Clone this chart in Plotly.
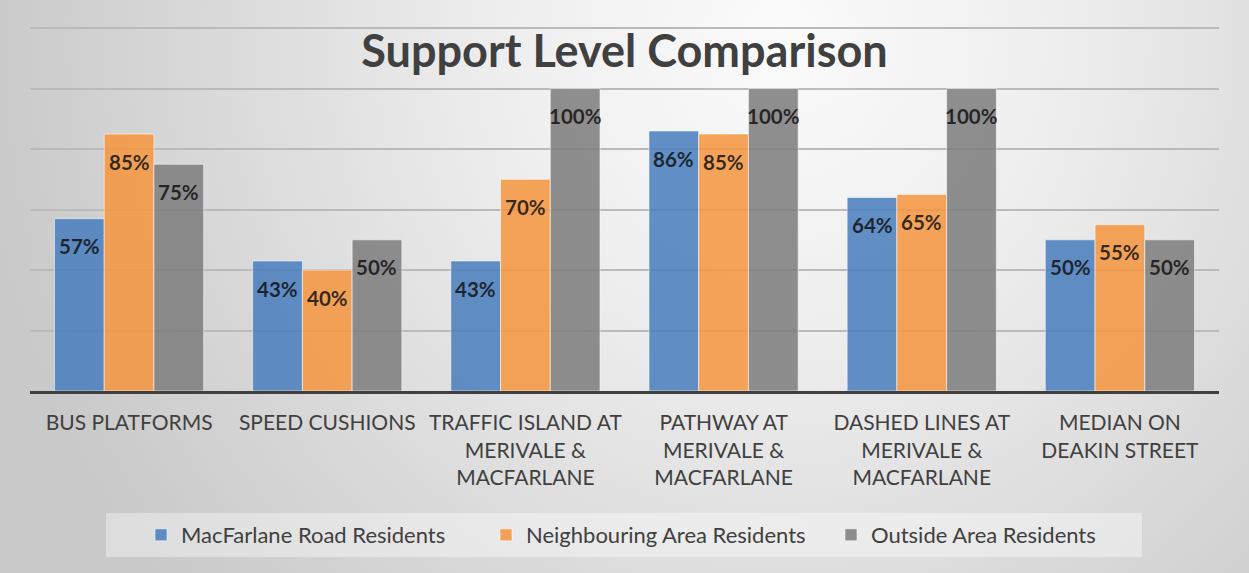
import base64
import plotly.graph_objects as go

# ---------------- data ----------------
categories = [
    "BUS PLATFORMS",
    "SPEED CUSHIONS",
    "TRAFFIC ISLAND AT<br>MERIVALE &<br>MACFARLANE",
    "PATHWAY AT<br>MERIVALE &<br>MACFARLANE",
    "DASHED LINES AT<br>MERIVALE &<br>MACFARLANE",
    "MEDIAN ON<br>DEAKIN STREET",
]
macfarlane = [57, 43, 43, 86, 64, 50]
neighbouring = [85, 40, 70, 85, 65, 55]
outside = [75, 50, 100, 100, 100, 50]
series_names = ["MacFarlane Road Residents", "Neighbouring Area Residents", "Outside Area Residents"]
y_ticks = [0, 20, 40, 60, 80, 100, 120]

# ---------------- geometry / style ----------------
W, H = 1249, 573
ML, MR, MT, MB = 30, 30, 27, 182
PW, PH = W - ML - MR, H - MT - MB

def px_x(px):
    return (px - ML) / PW

def px_y(py):
    return (H - MB - py) / PH

colors = ["rgba(74,126,190,0.87)", "rgba(245,150,66,0.87)", "rgba(126,126,126,0.87)"]
FONT = "Lato, 'Open Sans', sans-serif"

# background radial gradient as inline SVG
svg = f"""<svg xmlns='http://www.w3.org/2000/svg' width='{W}' height='{H}' viewBox='0 0 {W} {H}'>
<defs><radialGradient id='g' gradientUnits='userSpaceOnUse' cx='780' cy='40' r='800'
 gradientTransform='translate(780 40) scale(1 1.05) translate(-780 -40)'>
<stop offset='0' stop-color='#fbfbfb'/>
<stop offset='0.35' stop-color='#eeeeee'/>
<stop offset='0.7' stop-color='#dadada'/>
<stop offset='1' stop-color='#c9c9c9'/>
</radialGradient></defs>
<rect x='0' y='0' width='{W}' height='{H}' fill='url(#g)'/>
</svg>"""
svg_uri = "data:image/svg+xml;base64," + base64.b64encode(svg.encode()).decode()

fig = go.Figure()
for name, vals, col in zip(series_names, [macfarlane, neighbouring, outside], colors):
    fig.add_trace(go.Bar(
        x=categories, y=vals, name=name,
        marker=dict(color=col, line=dict(color="rgba(255,255,255,0.55)", width=1)),
        hoverinfo="skip",
    ))

# value labels inside near bar top
annotations = []
for i, vals in enumerate([macfarlane, neighbouring, outside]):
    for c, v in zip(categories, vals):
        annotations.append(dict(
            x=c, y=v, xref="x", yref="y", text=f"{v}%", showarrow=False,
            xshift=(i - 1) * 49.7, yshift=-27.5,
            font=dict(family=FONT, size=20.5, color="rgba(18,18,18,0.85)", weight="bold"),
        ))

fig.update_layout(
    width=W, height=H, autosize=False,
    margin=dict(l=ML, r=MR, t=MT, b=MB),
    paper_bgcolor="rgba(0,0,0,0)",
    plot_bgcolor="rgba(0,0,0,0)",
    barmode="group", bargap=0.247, bargroupgap=0,
    title=dict(
        text="Support Level Comparison", x=0.5, xanchor="center",
        y=1 - 51 / H, yanchor="middle", yref="container",
        font=dict(family=FONT, size=45, color="#404040", weight="bold"),
    ),
    xaxis=dict(
        showline=True, linecolor="#404040", linewidth=3,
        ticks="", tickfont=dict(family=FONT, size=21, color="#404040"),
        ticklabelstandoff=11, showgrid=False,
    ),
    yaxis=dict(
        range=[0, 120.4], tickvals=y_ticks, showticklabels=False,
        showgrid=True, gridcolor="#bababa", gridwidth=1.5,
        zeroline=False, showline=False,
    ),
    legend=dict(
        orientation="h", x=px_x(141), xanchor="left", y=px_y(535), yanchor="middle",
        bgcolor="rgba(0,0,0,0)", entrywidth=300, entrywidthmode="pixels",
        font=dict(family=FONT, size=22, color="#404040"),
    ),
    images=[dict(
        source=svg_uri, xref="paper", yref="paper",
        x=px_x(0), y=px_y(0), sizex=W / PW, sizey=H / PH,
        xanchor="left", yanchor="top", sizing="stretch", layer="below",
    )],
    shapes=[dict(
        type="rect", xref="paper", yref="paper",
        x0=px_x(106), x1=px_x(1142), y0=px_y(557), y1=px_y(513),
        fillcolor="rgba(255,255,255,0.38)", line=dict(width=0), layer="below",
    )],
    annotations=annotations,
    showlegend=True,
)

fig.write_html(
    "out.html",
    config={"displayModeBar": False},
    post_script="document.body.style.margin='0';document.body.style.overflow='hidden';",
)
